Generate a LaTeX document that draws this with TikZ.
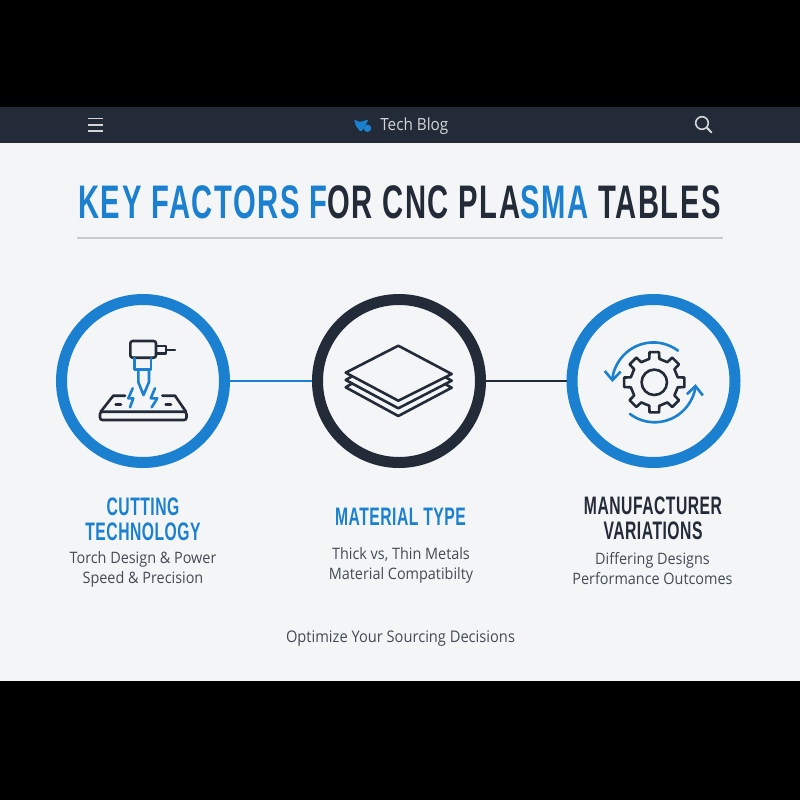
\documentclass[tikz,border=0pt]{standalone}
\usepackage{fontspec}
\usetikzlibrary{arrows.meta}
\setmainfont{Open Sans}[FakeStretch=0.915]
\newfontfamily\condfont{Liberation Sans}[FakeStretch=0.62,LetterSpace=2]
\newfontfamily\titlefont{Liberation Sans}[FakeStretch=0.62,LetterSpace=3.4]
\definecolor{navy}{HTML}{232B38}
\definecolor{azure}{HTML}{1B80D0}
\definecolor{panel}{HTML}{F4F5F6}
\tikzset{
  ring/.style={circle, draw, line width=2.75mm, minimum size=40.75mm},
  link/.style={line width=0.5mm},
  icon/.style={line width=0.65mm, navy, line join=round, line cap=round},
  iconblue/.style={icon, azure},
  heading/.style={align=center, inner sep=0pt, font=\condfont\bfseries\fontsize{18}{17.8}\selectfont},
  detail/.style={align=center, inner sep=0pt, text=navy!85, font=\fontsize{11.2}{14.2}\selectfont},
}
\begin{document}
\begin{tikzpicture}[x=0.25mm, y=-0.25mm]
  \useasboundingbox (0,0) rectangle (800,800);
  \fill[black] (0,0) rectangle (800,800);
  \fill[panel] (0,107) rectangle (800,681);
  \fill[navy] (0,107) rectangle (800,143);

  % top bar
  \draw[white!80!navy, line width=0.45mm] (88,118.5) -- (103,118.5) (88,124.8) -- (103,124.8) (88,131) -- (103,131);
  \fill[azure, rounded corners=0.3mm] (354,119.5) -- (360,122) -- (368.5,119.5) -- (364,128) -- (360.7,132) -- (356,126) -- cycle;
  \fill[azure] (367.5,128.3) circle (3.7);
  \node[anchor=west, inner sep=0pt, text=white!80!navy, font=\fontsize{11.9}{14}\selectfont] (blogname) at (380,126.5) {Tech Blog};
  \draw[white!80!navy, line width=0.4mm] (702,123) circle (6.3);
  \draw[white!80!navy, line width=0.5mm, line cap=round] (706.8,127.6) -- (711.5,132.5);

  % title
  \node[inner sep=0pt, font=\titlefont\bfseries\fontsize{33.5}{36}\selectfont] (title) at (399.5,202)
    {\textcolor{azure}{KEY FACTORS F}\textcolor{navy}{OR CNC PLA}\textcolor{azure}{SMA}\ \textcolor{navy}{TABLES}};
  \draw[navy!25, line width=0.4mm] (77,238) -- (723,238);

  % the three rings
  \node[ring, draw=azure] (cutting) at (143,381) {};
  \node[ring, draw=navy] (material) at (399,381) {};
  \node[ring, draw=azure] (maker) at (653.5,381) {};
  \draw[link, azure] (cutting) -- (material);
  \draw[link, navy] (material) -- (maker);

  % torch
  \draw[icon, rounded corners=0.6mm] (130.3,341) rectangle (156,357.7);
  \draw[icon] (156,346) -- (166,346) -- (166,353.3) -- (156,353.3) (166,350) -- (175,350);
  \draw[iconblue] (134.3,358.3) -- (134.3,369.3) -- (151,369.3) -- (151,358.3);
  \draw[iconblue] (138.3,369.3) -- (138.3,382) -- (143.5,395) -- (149,382) -- (149,369.3);
  \draw[iconblue] (132.7,388.3) -- (128.3,398.3) -- (133.3,398.3) -- (130,407.3);
  \draw[iconblue] (155,388.3) -- (150.7,398.3) -- (157.3,398.3) -- (151.7,407.3);
  \draw[icon] (125,395.7) -- (113.3,395.7) -- (100.7,411.7) (162.3,395.7) -- (175,395.7) -- (186,411.7);
  \draw[icon, rounded corners=0.6mm] (100,411.7) rectangle (186.5,420);
  \draw[icon] (115.7,404.3) -- (121,404.3) (165.7,404.3) -- (171,404.3);

  % stacked sheets
  \draw[icon] (398.3,345.7) -- (451.7,374) -- (398.3,400.7) -- (345.7,372.7) -- cycle;
  \draw[icon] (352,376.3) -- (345.7,380) -- (398.3,408.3) -- (451.7,380.7) -- (445.5,377.2);
  \draw[icon] (352,383.5) -- (345.7,387.3) -- (398.3,416) -- (451.7,387.7) -- (445.5,384.2);

  % gear and arrows
  \draw[icon] (654.3,382.3) circle (12.7);
  \draw[icon, shift={(654.3,382.3)}]
    (-12:24) foreach \a in {0,45,...,315} {
      -- (\a-12:24) -- (\a-9:30.5) -- (\a+9:30.5) -- (\a+12:24) -- (\a+33:24)
    } -- cycle;
  \draw[iconblue, -{Straight Barb[length=2.2mm,width=4mm]}] (678,350.7) arc[start angle=-53, end angle=-178, radius=41];
  \draw[iconblue, -{Straight Barb[length=2.2mm,width=4mm]}] (630,414) arc[start angle=127, end angle=4, radius=41];

  % labels
  \node[heading, text=azure] (cuttinghead) at (143,519) {CUTTING\\TECHNOLOGY};
  \node[detail] (cuttingtext) at (143,569) {Torch Design \& Power\\Speed \& Precision};
  \node[heading, text=azure] (materialhead) at (400.5,517) {MATERIAL TYPE};
  \node[detail] (materialtext) at (401,565.5) {Thick vs, Thin Metals\\Material Compatibilty};
  \node[heading, text=navy] (makerhead) at (653,518.5) {MANUFACTURER\\VARIATIONS};
  \node[detail] (makertext) at (652.5,569) {Differing Designs\\Performance Outcomes};
  \node[detail, font=\fontsize{11.4}{14.2}\selectfont] (closing) at (400.5,638.5) {Optimize Your Sourcing Decisions};
\end{tikzpicture}
\end{document}
